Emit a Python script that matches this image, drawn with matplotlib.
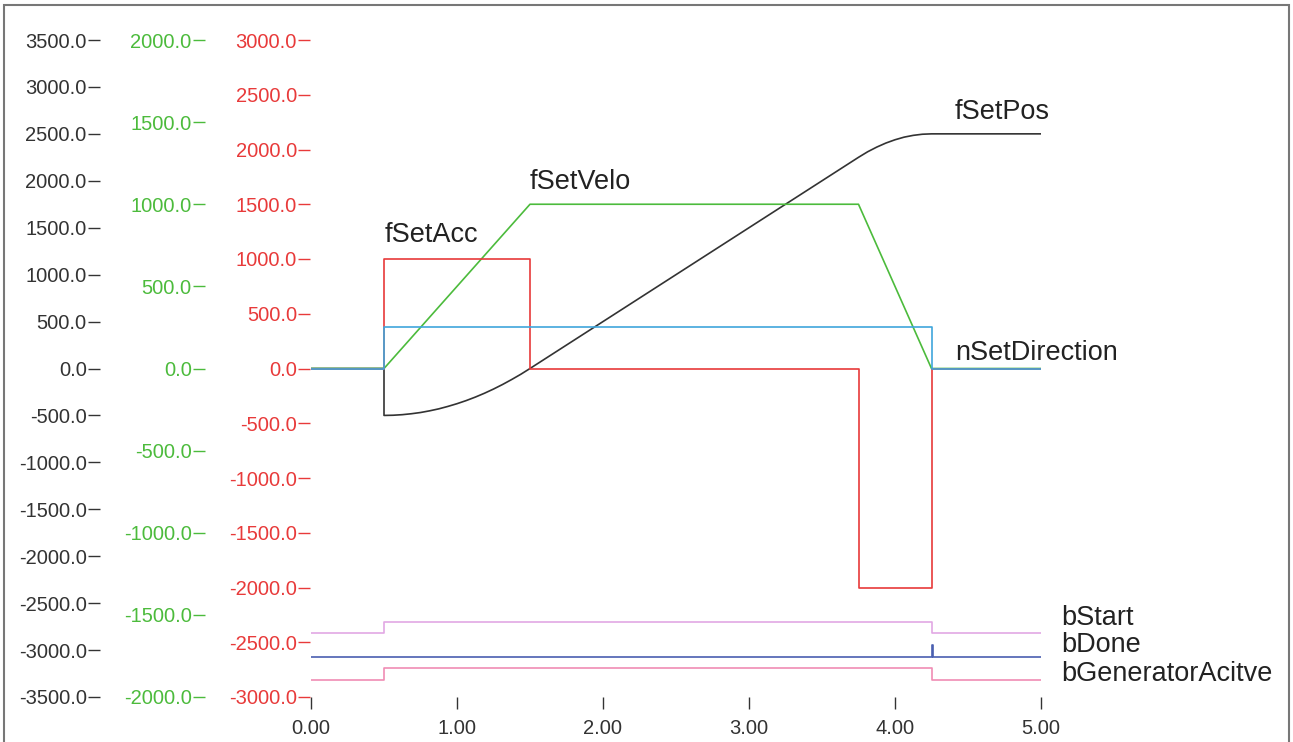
import matplotlib
matplotlib.use('Agg')
import matplotlib.pyplot as plt
from matplotlib.patches import Rectangle

plt.rcParams['font.family'] = ['Liberation Sans', 'DejaVu Sans']

# time base (s)
t_ticks = [0, 1, 2, 3, 4, 5]

# fSetAcc (red scale)
acc_t = [0.0, 0.5, 0.5, 1.5, 1.5, 3.75, 3.75, 4.25, 4.25, 5.0]
acc_v = [0, 0, 1000, 1000, 0, 0, -2000, -2000, 0, 0]

# fSetVelo (green scale)
velo_t = [0.0, 0.5, 1.5, 3.75, 4.25, 5.0]
velo_v = [0, 0, 1000, 1000, 0, 0]

# fSetPos (black scale)
pos_t = [0.0, 0.5, 0.5, 0.5625, 0.625, 0.6875, 0.75, 0.8125, 0.875, 0.9375,
         1.0, 1.0625, 1.125, 1.1875, 1.25, 1.3125, 1.375, 1.4375, 1.5,
         2.0, 2.5, 3.0, 3.5, 3.75, 3.8125, 3.875, 3.9375, 4.0, 4.0625,
         4.125, 4.1875, 4.25, 5.0]
pos_v = [0, 0, -500, -498, -492, -482, -469, -451, -430, -404,
         -375, -342, -305, -264, -219, -170, -117, -61, 0,
         500, 1000, 1500, 2000, 2250, 2309, 2359, 2402, 2437, 2465,
         2484, 2496, 2500, 2500]

# nSetDirection
dir_t = [0.0, 0.5, 0.5, 4.25, 4.25, 5.0]
dir_v = [0, 0, 1, 1, 0, 0]

# digital channels
start_t = [0.0, 0.5, 0.5, 4.25, 4.25, 5.0]
start_v = [0, 0, 1, 1, 0, 0]
done_t = [0.0, 4.25, 4.25, 4.26, 4.26, 5.0]
done_v = [0, 0, 1, 1, 0, 0]
gen_t = [0.0, 0.5, 0.5, 4.25, 4.25, 5.0]
gen_v = [0, 0, 1, 1, 0, 0]

black_ticks = list(range(-3500, 3501, 500))
green_ticks = list(range(-2000, 2001, 500))
red_ticks = list(range(-3000, 3001, 500))

C_BLACK = '#333333'
C_GREEN = '#4cbb3c'
C_RED = '#e83a3a'
C_DIR = '#3fa6dc'
C_START = '#e2a8e4'
C_DONE = '#4a5fb0'
C_GEN = '#f08cb4'

W, H = 1293, 742
fig = plt.figure(figsize=(W / 100, H / 100), dpi=100)
rect = [311 / W, (H - 697) / H, 730 / W, 657 / H]

ax = fig.add_axes(rect)
axg = fig.add_axes(rect, sharex=ax)
axr = fig.add_axes(rect, sharex=ax)
axd = fig.add_axes(rect, sharex=ax)
axb = fig.add_axes(rect, sharex=ax)

for a in (ax, axg, axr, axd, axb):
    a.patch.set_visible(False)
    for s in a.spines.values():
        s.set_color('none')

ax.set_xlim(0, 5)
ax.set_ylim(-3500, 3500)
axg.set_ylim(-2000, 2000)
axr.set_ylim(-3000, 3000)
axd.set_ylim(-8, 8)
axb.set_ylim(-1.45, 54.7)

# y scales on the left, side by side
for a, ticks, col, off in ((ax, black_ticks, C_BLACK, 151.9),
                           (axg, green_ticks, C_GREEN, 76.3),
                           (axr, red_ticks, C_RED, 0.5)):
    a.spines['left'].set_position(('outward', off))
    a.set_yticks(ticks)
    a.set_yticklabels(['%.1f' % v for v in ticks])
    a.tick_params(axis='y', direction='out', length=8.6, width=1,
                  color=col, labelcolor=col, labelsize=14.5, pad=1)

ax.set_xticks(t_ticks)
ax.set_xticklabels(['%.2f' % v for v in t_ticks])
ax.tick_params(axis='x', direction='out', length=8.6, width=1,
               color=C_BLACK, labelcolor=C_BLACK, labelsize=14.5, pad=7.5)
for a in (axg, axr, axd, axb):
    a.tick_params(axis='x', bottom=False, labelbottom=False)
for a in (axd, axb):
    a.tick_params(axis='y', left=False, labelleft=False)

lw = 1.2
axb.plot(start_t, [v + 4 for v in start_v], color=C_START, lw=lw)
axb.plot(done_t, [v + 2 for v in done_v], color=C_DONE, lw=lw)
axb.plot(gen_t, gen_v, color=C_GEN, lw=lw)
axr.plot(acc_t, acc_v, color=C_RED, lw=lw)
axd.plot(dir_t, dir_v, color=C_DIR, lw=lw)
axg.plot(velo_t, velo_v, color=C_GREEN, lw=lw)
ax.plot(pos_t, pos_v, color=C_BLACK, lw=lw)

# channel names
fs = 19.5
names = [('fSetAcc', 0.507, 1420), ('fSetVelo', 1.5, 1985),
         ('fSetPos', 4.41, 2728), ('nSetDirection', 4.41, 170),
         ('bStart', 5.14, -2663), ('bDone', 5.14, -2948),
         ('bGeneratorAcitve', 5.14, -3255)]
for txt, x, y in names:
    ax.text(x, y, txt, fontsize=fs, color='#222222', va='center', ha='left',
            clip_on=False)

fig.patches.append(Rectangle((4 / W, -0.02), 1285 / W, (H - 5) / H + 0.02,
                             transform=fig.transFigure, fill=False,
                             edgecolor='#777777', lw=1.5))

fig.savefig('out.png', dpi=100)
